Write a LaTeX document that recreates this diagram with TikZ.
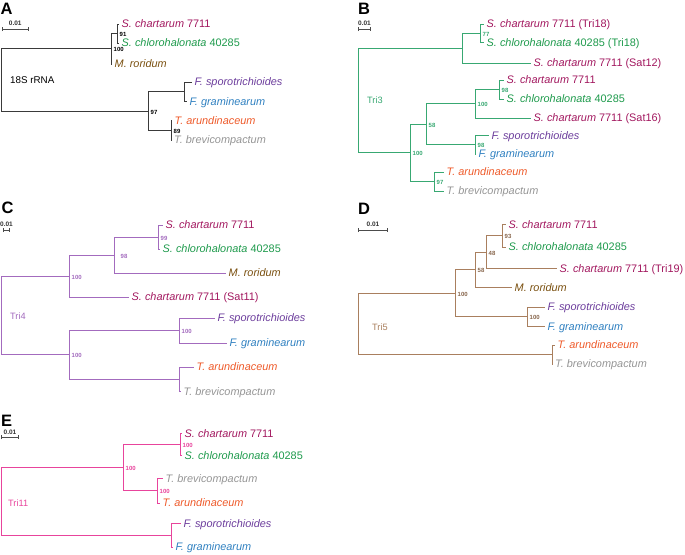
\documentclass[tikz,border=0pt]{standalone}
\usepackage{fontspec}
\setmainfont{Liberation Sans}
\usetikzlibrary{arrows.meta}

\definecolor{treeA}{HTML}{3A3A3A}
\definecolor{treeB}{HTML}{38A872}
\definecolor{treeC}{HTML}{A36BBE}
\definecolor{treeD}{HTML}{A97F5E}
\definecolor{treeE}{HTML}{E8449C}
\definecolor{chart}{HTML}{A2185F}
\definecolor{chloro}{HTML}{1E9A4C}
\definecolor{ror}{HTML}{7A5010}
\definecolor{sporo}{HTML}{6C3D9C}
\definecolor{gram}{HTML}{2F80C0}
\definecolor{arund}{HTML}{EE5A2A}
\definecolor{brev}{HTML}{959595}

\newcommand{\schart}{\textit{S. chartarum} 7711}
\newcommand{\schlo}{\textit{S. chlorohalonata} 40285}
\newcommand{\mror}{\textit{M. roridum}}
\newcommand{\fspo}{\textit{F. sporotrichioides}}
\newcommand{\fgra}{\textit{F. graminearum}}
\newcommand{\taru}{\textit{T. arundinaceum}}
\newcommand{\tbre}{\textit{T. brevicompactum}}

\begin{document}
\begin{tikzpicture}[
		x=1pt, y=-1pt,
		leaf/.style={anchor=west, inner xsep=2.5pt, inner ysep=0pt, text height=7.8pt, text depth=0pt, font=\fontsize{10.9}{12}\selectfont},
		boot/.style={anchor=west, inner sep=1pt, xshift=1.5pt, yshift=-1pt, font=\fontsize{6}{7}\selectfont\bfseries},
		branch/.style={draw, line width=1pt},
		panel/.style={inner sep=0pt, font=\fontsize{16.5}{17}\selectfont\bfseries},
		gene/.style={anchor=west, inner sep=0pt, font=\fontsize{9.2}{10}\selectfont},
		scalebar/.style={draw, line width=0.8pt, black!70, {Bar[width=4pt]}-{Bar[width=4pt]}},
		barlabel/.style={inner sep=0pt, black!80, font=\fontsize{6.5}{7}\selectfont\bfseries}
	]
	\useasboundingbox (0,0) rectangle (685,554);

	% Panel A: 18S rRNA
	\node[panel] (A) at (6.5,9) {A};
	\coordinate (sbA1) at (1.5,29);
	\coordinate (sbA2) at (29,29);
	\path[scalebar] (sbA1) -- node[barlabel, above=3pt] (sbAl) {0.01} (sbA2);
	\node[gene, font=\fontsize{9.8}{10}\selectfont] (geneA) at (10,80) {18S rRNA};

	\coordinate (rA) at (1,80);
	\coordinate (a1) at (111,48.8);
	\coordinate (a11) at (117,33.5);
	\coordinate (a2) at (148,111);
	\coordinate (a21) at (184,91.8);
	\coordinate (a22) at (171,130.3);

	\node[leaf, text=chart] (aL1) at (119,24) {\schart};
	\node[leaf, text=chloro] (aL2) at (119,43) {\schlo};
	\node[leaf, text=ror] (aL3) at (112,64) {\mror};
	\node[leaf, text=sporo] (aL4) at (192,82) {\fspo};
	\node[leaf, text=gram] (aL5) at (187,101.5) {\fgra};
	\node[leaf, text=arund] (aL6) at (172,120.5) {\taru};
	\node[leaf, text=brev] (aL7) at (171.5,140) {\tbre};

	\path[branch, treeA] (rA) |- (a1);
	\path[branch, treeA] (rA) |- (a2);
	\path[branch, treeA] (a1) |- (a11);
	\path[branch, treeA] (a1) |- (aL3.west);
	\path[branch, treeA] (a11) |- (aL1.west);
	\path[branch, treeA] (a11) |- (aL2.west);
	\path[branch, treeA] (a2) |- (a21);
	\path[branch, treeA] (a2) |- (a22);
	\path[branch, treeA] (a21) |- (aL4.west);
	\path[branch, treeA] (a21) |- (aL5.west);
	\path[branch, treeA] (a22) |- (aL6.west);
	\path[branch, treeA] (a22) |- (aL7.west);

	\node[boot] (a11n) at (a11) {91};
	\node[boot] (a1n) at (a1) {100};
	\node[boot] (a2n) at (a2) {97};
	\node[boot] (a22n) at (a22) {89};

	% Panel B: Tri3
	\node[panel] (B) at (364,9) {B};
	\coordinate (sbB1) at (358,29);
	\coordinate (sbB2) at (371,29);
	\path[scalebar] (sbB1) -- node[barlabel, above=3pt] (sbBl) {0.01} (sbB2);
	\node[gene, text=treeB] (geneB) at (367,100) {Tri3};

	\coordinate (rB) at (358,100.5);
	\coordinate (b1) at (462,48);
	\coordinate (b11) at (480,33.3);
	\coordinate (b0) at (410,152.9);
	\coordinate (b2) at (426,124.3);
	\coordinate (b21) at (475,103.8);
	\coordinate (b211) at (499,89.5);
	\coordinate (b22) at (475,144.8);
	\coordinate (b3) at (434,181.5);

	\node[leaf, text=chart] (bL1) at (484,24) {\schart{} (Tri18)};
	\node[leaf, text=chloro] (bL2) at (484,42.5) {\schlo{} (Tri18)};
	\node[leaf, text=chart] (bL3) at (531,63) {\schart{} (Sat12)};
	\node[leaf, text=chart] (bL4) at (504,80) {\schart};
	\node[leaf, text=chloro] (bL5) at (504,99) {\schlo};
	\node[leaf, text=chart] (bL6) at (531,118) {\schart{} (Sat16)};
	\node[leaf, text=sporo] (bL7) at (489,135.5) {\fspo};
	\node[leaf, text=gram] (bL8) at (476,154) {\fgra};
	\node[leaf, text=arund] (bL9) at (444,172) {\taru};
	\node[leaf, text=brev] (bL10) at (444,191) {\tbre};

	\path[branch, treeB] (rB) |- (b1);
	\path[branch, treeB] (rB) |- (b0);
	\path[branch, treeB] (b1) |- (b11);
	\path[branch, treeB] (b1) |- (bL3.west);
	\path[branch, treeB] (b11) |- (bL1.west);
	\path[branch, treeB] (b11) |- (bL2.west);
	\path[branch, treeB] (b0) |- (b2);
	\path[branch, treeB] (b0) |- (b3);
	\path[branch, treeB] (b2) |- (b21);
	\path[branch, treeB] (b2) |- (b22);
	\path[branch, treeB] (b21) |- (b211);
	\path[branch, treeB] (b21) |- (bL6.west);
	\path[branch, treeB] (b211) |- (bL4.west);
	\path[branch, treeB] (b211) |- (bL5.west);
	\path[branch, treeB] (b22) |- (bL7.west);
	\path[branch, treeB] (b22) |- (bL8.west);
	\path[branch, treeB] (b3) |- (bL9.west);
	\path[branch, treeB] (b3) |- (bL10.west);

	\node[boot, text=treeB] (b11n) at (b11) {77};
	\node[boot, text=treeB] (b211n) at (b211) {98};
	\node[boot, text=treeB] (b21n) at (b21) {100};
	\node[boot, text=treeB] (b2n) at (b2) {58};
	\node[boot, text=treeB] (b22n) at (b22) {98};
	\node[boot, text=treeB] (b0n) at (b0) {100};
	\node[boot, text=treeB] (b3n) at (b3) {97};

	% Panel C: Tri4
	\node[panel] (C) at (7.5,207.5) {C};
	\coordinate (sbC1) at (3,230);
	\coordinate (sbC2) at (10,230);
	\path[scalebar] (sbC1) -- node[barlabel, above=3pt] (sbCl) {0.01} (sbC2);
	\node[gene, text=treeC] (geneC) at (10,316) {Tri4};

	\coordinate (rC) at (1,315.5);
	\coordinate (c0) at (69,276);
	\coordinate (c1) at (114,255);
	\coordinate (c11) at (158,237);
	\coordinate (c2) at (69,354.9);
	\coordinate (c21) at (179,330.5);
	\coordinate (c22) at (179,379.3);

	\node[leaf, text=chart] (cL1) at (163,225) {\schart};
	\node[leaf, text=chloro] (cL2) at (160,249) {\schlo};
	\node[leaf, text=ror] (cL3) at (226,273) {\mror};
	\node[leaf, text=chart] (cL4) at (129,297) {\schart{} (Sat11)};
	\node[leaf, text=sporo] (cL5) at (215,318) {\fspo};
	\node[leaf, text=gram] (cL6) at (227,343) {\fgra};
	\node[leaf, text=arund] (cL7) at (194,367) {\taru};
	\node[leaf, text=brev] (cL8) at (181,391.5) {\tbre};

	\path[branch, treeC] (rC) |- (c0);
	\path[branch, treeC] (rC) |- (c2);
	\path[branch, treeC] (c0) |- (c1);
	\path[branch, treeC] (c0) |- (cL4.west);
	\path[branch, treeC] (c1) |- (c11);
	\path[branch, treeC] (c1) |- (cL3.west);
	\path[branch, treeC] (c11) |- (cL1.west);
	\path[branch, treeC] (c11) |- (cL2.west);
	\path[branch, treeC] (c2) |- (c21);
	\path[branch, treeC] (c2) |- (c22);
	\path[branch, treeC] (c21) |- (cL5.west);
	\path[branch, treeC] (c21) |- (cL6.west);
	\path[branch, treeC] (c22) |- (cL7.west);
	\path[branch, treeC] (c22) |- (cL8.west);

	\node[boot, text=treeC] (c11n) at (c11) {99};
	\node[boot, text=treeC, xshift=4pt] (c1n) at (c1) {98};
	\node[boot, text=treeC] (c0n) at (c0) {100};
	\node[boot, text=treeC] (c21n) at (c21) {100};
	\node[boot, text=treeC] (c2n) at (c2) {100};

	% Panel D: Tri5
	\node[panel] (D) at (364,209) {D};
	\coordinate (sbD1) at (358,230);
	\coordinate (sbD2) at (388,230);
	\path[scalebar] (sbD1) -- node[barlabel, above=3pt] (sbDl) {0.01} (sbD2);
	\node[gene, text=treeD] (geneD) at (372,327) {Tri5};

	\coordinate (rD) at (358,323.9);
	\coordinate (d0) at (455,293.3);
	\coordinate (d1) at (475,269.8);
	\coordinate (d11) at (486,252.1);
	\coordinate (d111) at (502,235.8);
	\coordinate (d2) at (527,316.8);
	\coordinate (d3) at (552,354.5);

	\node[leaf, text=chart] (dL1) at (506,224.5) {\schart};
	\node[leaf, text=chloro] (dL2) at (506,247) {\schlo};
	\node[leaf, text=chart] (dL3) at (557,268.5) {\schart{} (Tri19)};
	\node[leaf, text=ror] (dL4) at (512,287.5) {\mror};
	\node[leaf, text=sporo] (dL5) at (545,307) {\fspo};
	\node[leaf, text=gram] (dL6) at (545,326.5) {\fgra};
	\node[leaf, text=arund] (dL7) at (555,345) {\taru};
	\node[leaf, text=brev] (dL8) at (552.5,364) {\tbre};

	\path[branch, treeD] (rD) |- (d0);
	\path[branch, treeD] (rD) |- (d3);
	\path[branch, treeD] (d0) |- (d1);
	\path[branch, treeD] (d0) |- (d2);
	\path[branch, treeD] (d1) |- (d11);
	\path[branch, treeD] (d1) |- (dL4.west);
	\path[branch, treeD] (d11) |- (d111);
	\path[branch, treeD] (d11) |- (dL3.west);
	\path[branch, treeD] (d111) |- (dL1.west);
	\path[branch, treeD] (d111) |- (dL2.west);
	\path[branch, treeD] (d2) |- (dL5.west);
	\path[branch, treeD] (d2) |- (dL6.west);
	\path[branch, treeD] (d3) |- (dL7.west);
	\path[branch, treeD] (d3) |- (dL8.west);

	\node[boot, text=treeD!80!black] (d111n) at (d111) {93};
	\node[boot, text=treeD!80!black] (d11n) at (d11) {48};
	\node[boot, text=treeD!80!black] (d1n) at (d1) {58};
	\node[boot, text=treeD!80!black] (d0n) at (d0) {100};
	\node[boot, text=treeD!80!black] (d2n) at (d2) {100};

	% Panel E: Tri11
	\node[panel] (E) at (6.7,421) {E};
	\coordinate (sbE1) at (1,437);
	\coordinate (sbE2) at (19,437);
	\path[scalebar] (sbE1) -- node[barlabel, above=2pt] (sbEl) {0.01} (sbE2);
	\node[gene, text=treeE] (geneE) at (8,503) {Tri11};

	\coordinate (rE) at (1,501.4);
	\coordinate (e1) at (123,467.6);
	\coordinate (e11) at (180,444.5);
	\coordinate (e12) at (157,490.8);
	\coordinate (e2) at (171,535.3);

	\node[leaf, text=chart] (eL1) at (182,433.5) {\schart};
	\node[leaf, text=chloro] (eL2) at (182,455.5) {\schlo};
	\node[leaf, text=brev] (eL3) at (163,478.5) {\tbre};
	\node[leaf, text=arund] (eL4) at (160,503) {\taru};
	\node[leaf, text=sporo] (eL5) at (181,523.5) {\fspo};
	\node[leaf, text=gram] (eL6) at (173,547) {\fgra};

	\path[branch, treeE] (rE) |- (e1);
	\path[branch, treeE] (rE) |- (e2);
	\path[branch, treeE] (e1) |- (e11);
	\path[branch, treeE] (e1) |- (e12);
	\path[branch, treeE] (e11) |- (eL1.west);
	\path[branch, treeE] (e11) |- (eL2.west);
	\path[branch, treeE] (e12) |- (eL3.west);
	\path[branch, treeE] (e12) |- (eL4.west);
	\path[branch, treeE] (e2) |- (eL5.west);
	\path[branch, treeE] (e2) |- (eL6.west);

	\node[boot, text=treeE] (e11n) at (e11) {100};
	\node[boot, text=treeE] (e12n) at (e12) {100};
	\node[boot, text=treeE] (e1n) at (e1) {100};

\end{tikzpicture}
\end{document}
